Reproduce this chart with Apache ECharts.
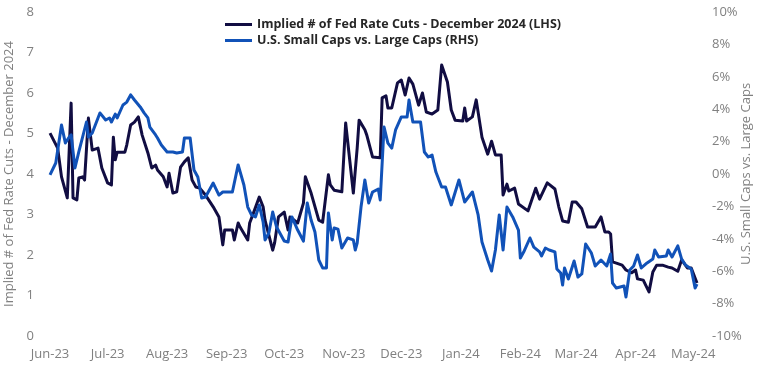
<!DOCTYPE html>
<html>
<head>
<meta charset="utf-8">
<script src="https://cdn.jsdelivr.net/npm/echarts@6/dist/echarts.min.js"></script>
<style>
  html, body { margin: 0; padding: 0; background: #fff; }
  #chart { width: 762px; height: 372px; }
</style>
</head>
<body>
<div id="chart"></div>
<script>
// Implied # of Fed rate cuts by December 2024 (left axis)
const fedDates = [
  '2023-06-01','2023-06-05','2023-06-07','2023-06-10','2023-06-12','2023-06-13','2023-06-15','2023-06-16','2023-06-18','2023-06-19',
  '2023-06-21','2023-06-23','2023-06-26','2023-06-28','2023-07-01','2023-07-03','2023-07-04','2023-07-05','2023-07-06','2023-07-10',
  '2023-07-11','2023-07-13','2023-07-15','2023-07-17','2023-07-19','2023-07-22','2023-07-24','2023-07-26','2023-07-27','2023-07-30',
  '2023-08-01','2023-08-02','2023-08-04','2023-08-06','2023-08-08','2023-08-10','2023-08-12','2023-08-14','2023-08-16','2023-08-18',
  '2023-08-21','2023-08-25','2023-08-28','2023-08-30','2023-08-31','2023-09-04','2023-09-05','2023-09-07','2023-09-08','2023-09-12',
  '2023-09-13','2023-09-15','2023-09-18','2023-09-20','2023-09-21','2023-09-25','2023-09-26','2023-09-28','2023-10-01','2023-10-03',
  '2023-10-04','2023-10-08','2023-10-11','2023-10-12','2023-10-15','2023-10-16','2023-10-19','2023-10-21','2023-10-24','2023-10-25',
  '2023-10-27','2023-10-31','2023-11-02','2023-11-06','2023-11-08','2023-11-09','2023-11-12','2023-11-13','2023-11-16','2023-11-20',
  '2023-11-21','2023-11-23','2023-11-24','2023-11-26','2023-11-29','2023-12-01','2023-12-03','2023-12-05','2023-12-07','2023-12-10',
  '2023-12-12','2023-12-14','2023-12-17','2023-12-20','2023-12-22','2023-12-25','2023-12-27','2023-12-29','2024-01-02','2024-01-03',
  '2024-01-04','2024-01-07','2024-01-09','2024-01-12','2024-01-15','2024-01-17','2024-01-19','2024-01-22','2024-01-23','2024-01-25',
  '2024-01-26','2024-01-29','2024-01-31','2024-02-05','2024-02-09','2024-02-11','2024-02-15','2024-02-19','2024-02-21','2024-02-23',
  '2024-02-26','2024-02-28','2024-03-01','2024-03-04','2024-03-07','2024-03-11','2024-03-14','2024-03-16','2024-03-18','2024-03-19',
  '2024-03-20','2024-03-22','2024-03-25','2024-03-27','2024-03-30','2024-04-01','2024-04-02','2024-04-05','2024-04-08','2024-04-10',
  '2024-04-12','2024-04-15','2024-04-18','2024-04-20','2024-04-23','2024-04-25','2024-04-28','2024-04-30','2024-05-03'
];
const fedCuts = [
  5.01, 4.64, 3.93, 3.41, 5.75, 3.41, 3.36, 3.90, 3.93, 3.85,
  5.38, 4.59, 4.64, 4.15, 3.78, 3.73, 4.91, 4.35, 4.54, 4.54,
  4.72, 5.21, 5.28, 5.41, 4.96, 4.52, 4.15, 4.22, 4.10, 3.93,
  3.68, 4.02, 3.53, 3.56, 4.17, 4.30, 4.40, 3.85, 3.68, 3.65,
  3.48, 3.19, 2.94, 2.25, 2.62, 2.62, 2.37, 2.79, 2.69, 2.37,
  2.79, 3.04, 3.43, 3.19, 2.86, 2.12, 2.30, 2.94, 3.06, 2.62,
  2.94, 2.79, 3.28, 3.93, 3.53, 3.56, 2.86, 2.81, 3.98, 3.73,
  3.60, 3.56, 5.26, 3.53, 4.64, 5.33, 5.09, 4.96, 4.42, 4.40,
  5.88, 5.93, 5.63, 5.63, 6.25, 6.32, 5.95, 6.37, 6.22, 5.70,
  6.00, 5.53, 5.48, 5.58, 6.69, 6.27, 5.58, 5.33, 5.31, 5.63,
  5.31, 5.41, 5.83, 4.91, 4.49, 4.81, 4.47, 4.47, 3.48, 3.75,
  3.58, 3.65, 3.26, 3.09, 3.65, 3.38, 3.78, 3.63, 3.19, 2.84,
  2.81, 3.31, 3.31, 3.14, 2.69, 2.69, 2.94, 2.57, 2.57, 2.52,
  1.83, 1.80, 1.75, 1.63, 1.56, 1.63, 1.41, 1.38, 1.09, 1.58,
  1.75, 1.75, 1.70, 1.68, 1.60, 1.88, 1.68, 1.68, 1.31
];

// U.S. small caps vs. large caps, % (right axis)
const capsDates = [
  '2023-06-01','2023-06-04','2023-06-07','2023-06-09','2023-06-11','2023-06-12','2023-06-14','2023-06-16','2023-06-20','2023-06-21',
  '2023-06-23','2023-06-27','2023-06-30','2023-07-02','2023-07-03','2023-07-05','2023-07-06','2023-07-09','2023-07-11','2023-07-13',
  '2023-07-15','2023-07-18','2023-07-20','2023-07-22','2023-07-23','2023-07-26','2023-07-27','2023-07-29','2023-08-01','2023-08-04',
  '2023-08-06','2023-08-09','2023-08-10','2023-08-13','2023-08-15','2023-08-17','2023-08-19','2023-08-21','2023-08-25','2023-08-28',
  '2023-08-30','2023-09-04','2023-09-07','2023-09-10','2023-09-12','2023-09-14','2023-09-16','2023-09-18','2023-09-20','2023-09-21',
  '2023-09-23','2023-09-25','2023-09-27','2023-10-01','2023-10-03','2023-10-05','2023-10-08','2023-10-11','2023-10-13','2023-10-15',
  '2023-10-17','2023-10-19','2023-10-21','2023-10-23','2023-10-24','2023-10-26','2023-10-27','2023-10-29','2023-10-31','2023-11-03',
  '2023-11-06','2023-11-07','2023-11-08','2023-11-10','2023-11-12','2023-11-14','2023-11-16','2023-11-19','2023-11-20','2023-11-22',
  '2023-11-24','2023-11-26','2023-11-28','2023-12-01','2023-12-04','2023-12-05','2023-12-07','2023-12-11','2023-12-13','2023-12-15',
  '2023-12-17','2023-12-19','2023-12-22','2023-12-24','2023-12-27','2023-12-28','2023-12-31','2024-01-03','2024-01-07','2024-01-10',
  '2024-01-12','2024-01-15','2024-01-17','2024-01-19','2024-01-21','2024-01-23','2024-01-25','2024-01-28','2024-01-31','2024-02-01',
  '2024-02-03','2024-02-06','2024-02-08','2024-02-11','2024-02-12','2024-02-14','2024-02-16','2024-02-19','2024-02-20','2024-02-22',
  '2024-02-23','2024-02-24','2024-02-26','2024-02-29','2024-03-02','2024-03-04','2024-03-06','2024-03-09','2024-03-11','2024-03-14',
  '2024-03-17','2024-03-19','2024-03-20','2024-03-22','2024-03-26','2024-03-27','2024-03-29','2024-03-31','2024-04-02','2024-04-04',
  '2024-04-07','2024-04-10','2024-04-11','2024-04-13','2024-04-17','2024-04-18','2024-04-20','2024-04-23','2024-04-25','2024-04-27',
  '2024-04-30','2024-05-02','2024-05-03'
];
const capsSpread = [
  -0.06, 0.68, 3.02, 1.91, 2.28, 2.41, 0.37, 1.36, 3.21, 2.28,
  2.53, 3.77, 3.33, 3.46, 3.21, 3.70, 3.46, 4.26, 4.44, 4.88,
  4.57, 4.14, 3.77, 3.46, 2.90, 2.41, 2.22, 1.79, 1.36, 1.36,
  1.30, 1.36, 2.22, 2.22, 0.25, -0.19, -1.48, -1.42, -0.56, -1.30,
  -1.11, -1.11, 0.56, -0.68, -2.04, -2.53, -2.65, -1.91, -2.96, -4.07,
  -3.64, -2.35, -3.27, -4.14, -4.20, -2.65, -3.46, -4.14, -1.79, -2.84,
  -3.58, -5.31, -5.80, -5.80, -2.41, -4.07, -3.33, -3.40, -4.57, -3.95,
  -4.07, -4.69, -4.26, -2.04, -0.37, -1.79, -1.11, -0.93, -1.60, 2.90,
  1.91, 1.60, 2.72, 3.52, 3.52, 4.57, 3.21, 3.21, 1.36, 1.05,
  1.17, 0.12, -0.80, -0.80, -1.91, -1.91, -0.37, -1.73, -1.11, -2.53,
  -4.20, -5.31, -5.99, -4.69, -2.53, -4.69, -2.04, -2.65, -3.46, -5.19,
  -4.75, -3.95, -4.51, -4.81, -5.06, -4.57, -4.69, -4.81, -5.86, -6.11,
  -6.85, -5.80, -6.48, -5.37, -6.36, -6.17, -4.32, -4.88, -5.68, -5.31,
  -5.68, -4.94, -6.73, -7.04, -6.91, -7.59, -5.93, -5.68, -5.00, -5.80,
  -5.49, -5.25, -4.69, -5.12, -5.06, -4.69, -5.12, -4.44, -5.25, -5.62,
  -5.86, -7.04, -6.79
];

const monthNames = ['Jan','Feb','Mar','Apr','May','Jun','Jul','Aug','Sep','Oct','Nov','Dec'];
const navy = '#110d42';
const blue = '#1152b8';
const labelGray = '#808080';
const DAY = 24 * 3600 * 1000;

const chart = echarts.init(document.getElementById('chart'));

const option = {
  animation: false,
  textStyle: { fontFamily: 'Open Sans' },
  grid: { left: 50, right: 65, top: 12, bottom: 36, outerBoundsMode: 'none' },
  legend: {
    orient: 'vertical',
    left: 225,
    top: 18,
    padding: 0,
    icon: 'rect',
    itemWidth: 27,
    itemHeight: 3,
    itemGap: 3,
    textStyle: {
      color: '#262626',
      fontSize: 12.5,
      fontWeight: 'bold',
      fontFamily: 'Open Sans'
    },
    data: [
      'Implied # of Fed Rate Cuts - December 2024 (LHS)',
      'U.S. Small Caps vs. Large Caps (RHS)'
    ]
  },
  xAxis: {
    type: 'time',
    min: '2023-06-01',
    max: '2024-05-03',
    minInterval: 28 * DAY,
    maxInterval: 31 * DAY,
    axisLine: { show: false },
    axisTick: { show: false },
    splitLine: { show: false },
    axisLabel: {
      color: labelGray,
      fontSize: 13,
      margin: 12,
      showMaxLabel: false,
      formatter: function (value) {
        const d = new Date(value);
        return monthNames[d.getMonth()] + '-' + String(d.getFullYear()).slice(2);
      }
    }
  },
  yAxis: [
    {
      type: 'value',
      min: 0,
      max: 8,
      interval: 1,
      name: 'Implied # of Fed Rate Cuts - December 2024',
      nameLocation: 'middle',
      nameRotate: 90,
      nameGap: 34,
      nameMoveOverlap: false,
      nameTextStyle: { color: labelGray, fontSize: 13 },
      axisLine: { show: false },
      axisTick: { show: false },
      splitLine: { show: false },
      axisLabel: { color: labelGray, fontSize: 13, margin: 16 }
    },
    {
      type: 'value',
      min: -10,
      max: 10,
      interval: 2,
      name: 'U.S. Small Caps vs. Large Caps',
      nameLocation: 'middle',
      nameRotate: 90,
      nameGap: 43,
      nameMoveOverlap: false,
      nameTextStyle: { color: labelGray, fontSize: 13 },
      axisLine: { show: false },
      axisTick: { show: false },
      splitLine: { show: false },
      axisLabel: { color: labelGray, fontSize: 13, margin: 15, formatter: '{value}%' }
    }
  ],
  series: [
    {
      name: 'Implied # of Fed Rate Cuts - December 2024 (LHS)',
      type: 'line',
      yAxisIndex: 0,
      showSymbol: false,
      color: navy,
      lineStyle: { width: 3, color: navy, join: 'round' },
      data: fedDates.map((d, i) => [d, fedCuts[i]])
    },
    {
      name: 'U.S. Small Caps vs. Large Caps (RHS)',
      type: 'line',
      yAxisIndex: 1,
      showSymbol: false,
      color: blue,
      lineStyle: { width: 3, color: blue, join: 'round' },
      data: capsDates.map((d, i) => [d, capsSpread[i]])
    }
  ]
};

chart.setOption(option);
</script>
</body>
</html>
